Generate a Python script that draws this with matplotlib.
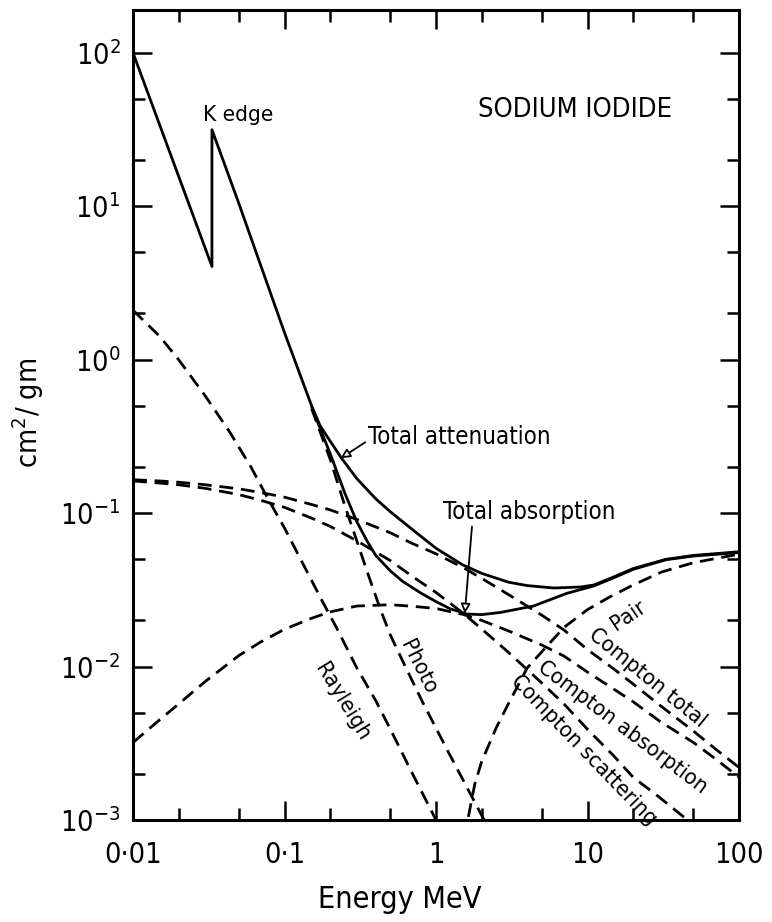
import matplotlib
matplotlib.use('Agg')
import matplotlib.pyplot as plt
from matplotlib import font_manager as fm
from matplotlib.ticker import LogLocator, NullFormatter, FixedLocator, FixedFormatter

# pick a narrow face if one is around, plain DejaVu otherwise
narrow = None
for f in fm.fontManager.ttflist:
    if f.stretch in ('condensed', 'semi-condensed') or 'Condensed' in f.name or 'Narrow' in f.name:
        if f.weight in (400, 'normal', 'regular', 'book') and f.style == 'normal':
            narrow = f
            break
if narrow is not None:
    plt.rcParams['font.family'] = [narrow.name, 'DejaVu Sans']
    plt.rcParams['font.stretch'] = narrow.stretch
    fs = 1.15
else:
    plt.rcParams['font.family'] = ['DejaVu Sans']
    fs = 1.0

# ---- data, cm^2/g vs MeV ----
E_att = [0.01, 0.0332, 0.0332, 0.049, 0.1, 0.151, 0.172, 0.2, 0.238, 0.3, 0.4, 0.5,
         0.7, 1.0, 1.5, 2.0, 3.0, 4.0, 6.0, 9.0, 11.0, 15.0, 20.0, 33.0, 50.0, 100.0]
mu_att = [100, 4.05, 31.5, 11, 1.5, 0.50, 0.37, 0.295, 0.228, 0.168, 0.124, 0.102,
          0.078, 0.059, 0.046, 0.0405, 0.0355, 0.0337, 0.0325, 0.0330, 0.0340, 0.0385,
          0.0435, 0.050, 0.053, 0.056]

E_abs = [0.151, 0.175, 0.2, 0.25, 0.3, 0.35, 0.4, 0.5, 0.6, 0.8, 1.0, 1.24, 1.6, 2.0,
         2.65, 4.4, 7.3, 11.0, 15.0, 20.0, 33.0, 50.0, 100.0]
mu_abs = [0.494, 0.34, 0.245, 0.135, 0.088, 0.066, 0.053, 0.042, 0.036, 0.030, 0.0265,
          0.0238, 0.0220, 0.0218, 0.0225, 0.0248, 0.030, 0.0335, 0.0380, 0.0430, 0.0497,
          0.0525, 0.0553]

E_photo = [0.151, 0.2, 0.25, 0.3, 0.35, 0.43, 0.5, 0.65, 0.82, 1.2, 1.75, 2.1]
mu_photo = [0.48, 0.225, 0.112, 0.066, 0.042, 0.0235, 0.0160, 0.0093, 0.0058, 0.0028,
            0.00138, 0.00098]

E_ray = [0.01, 0.015, 0.02, 0.03, 0.0437, 0.06, 0.08, 0.1, 0.132, 0.18, 0.22, 0.3, 0.4,
         0.5, 0.7, 1.0, 1.05]
mu_ray = [2.1, 1.42, 1.0, 0.58, 0.335, 0.2, 0.118, 0.08, 0.047, 0.026, 0.018, 0.0098,
          0.006, 0.0039, 0.002, 0.001, 0.0009]

E_c = [0.01, 0.015, 0.02, 0.03, 0.05, 0.07, 0.1, 0.15, 0.2, 0.3, 0.5, 0.7, 1.0, 1.5,
       2.0, 3.0, 5.0, 7.0, 10.0, 15.0, 20.0, 30.0, 50.0, 70.0, 100.0]
mu_ctot = [0.165, 0.162, 0.159, 0.153, 0.144, 0.136, 0.127, 0.114, 0.105, 0.091, 0.0744,
           0.0633, 0.0543, 0.0443, 0.0376, 0.0295, 0.0216, 0.0173, 0.0129, 0.0096, 0.0077,
           0.0056, 0.0038, 0.0029, 0.0022]
mu_cabs = [0.0032, 0.0045, 0.0057, 0.0080, 0.0118, 0.0145, 0.0175, 0.0206, 0.0227, 0.0248,
           0.0253, 0.0247, 0.0239, 0.0219, 0.0200, 0.0171, 0.0138, 0.0117, 0.0092, 0.0071,
           0.0059, 0.0044, 0.0032, 0.0025, 0.0019]
mu_cscat = [0.162, 0.157, 0.153, 0.145, 0.132, 0.121, 0.109, 0.093, 0.082, 0.066, 0.049,
            0.0386, 0.0304, 0.0224, 0.0176, 0.0124, 0.0078, 0.0057, 0.0039, 0.0026, 0.0019,
            0.0014, 0.00093, 0.0006, 0.0004]

E_pair = [1.5, 1.62, 1.8, 2.0, 2.5, 3.0, 4.0, 5.0, 7.0, 10.0, 14.0, 20.0, 31.0, 50.0, 100.0]
mu_pair = [0.00055, 0.001, 0.0017, 0.0024, 0.0040, 0.0057, 0.0098, 0.0125, 0.0180, 0.0235,
           0.0284, 0.0340, 0.0414, 0.0475, 0.054]

xticks = [0.01, 0.1, 1, 10, 100]
xticklabels = ['0\u00b701', '0\u00b71', '1', '10', '100']
yticks = [1e-3, 1e-2, 1e-1, 1e0, 1e1, 1e2]
yticklabels = [r'$\mathregular{10^{-3}}$', r'$\mathregular{10^{-2}}$', r'$\mathregular{10^{-1}}$',
               r'$\mathregular{10^{0}}$', r'$\mathregular{10^{1}}$', r'$\mathregular{10^{2}}$']

fig = plt.figure(figsize=(7.72, 9.22), dpi=100)
ax = fig.add_axes([133/772, 1-820/922, (739-133)/772, (820-10)/922])
ax.set_xscale('log')
ax.set_yscale('log')
ax.set_xlim(0.01, 100)
ax.set_ylim(1e-3, 190)

solid = dict(color='k', lw=2.0, solid_capstyle='butt', solid_joinstyle='round')
dash = dict(color='k', lw=2.0, ls=(0, (5, 2.8)))

ax.plot(E_att, mu_att, **solid)
ax.plot(E_abs, mu_abs, **solid)
ax.plot(E_photo, mu_photo, **dash)
ax.plot(E_ray, mu_ray, **dash)
ax.plot(E_c, mu_ctot, **dash)
ax.plot(E_c, mu_cabs, **dash)
ax.plot(E_c, mu_cscat, **dash)
ax.plot(E_pair, mu_pair, **dash)

# axes frame and ticks
for s in ax.spines.values():
    s.set_linewidth(2.2)
ax.xaxis.set_major_locator(FixedLocator(xticks))
ax.xaxis.set_major_formatter(FixedFormatter(xticklabels))
ax.yaxis.set_major_locator(FixedLocator(yticks))
ax.yaxis.set_major_formatter(FixedFormatter(yticklabels))
ax.xaxis.set_minor_locator(LogLocator(base=10, subs=(2.0, 5.0), numticks=20))
ax.yaxis.set_minor_locator(LogLocator(base=10, subs=(2.0, 5.0), numticks=20))
ax.xaxis.set_minor_formatter(NullFormatter())
ax.yaxis.set_minor_formatter(NullFormatter())
ax.tick_params(which='both', direction='in', top=True, right=True, width=1.8)
ax.tick_params(which='major', length=14)
ax.tick_params(which='minor', length=8.5)
ax.tick_params(axis='x', which='major', pad=15, labelsize=18*fs)
ax.tick_params(axis='y', which='major', pad=9, labelsize=18*fs)

fig.text(400/772, 1-899/922, 'Energy MeV', ha='center', va='center', fontsize=19*fs)
fig.text(28/772, 1-413/922, r'cm$\mathregular{^2}$/ gm', ha='center', va='center',
         rotation=90, fontsize=18*fs)

ax.text(36.1, 42.5, 'SODIUM IODIDE', ha='right', va='center', fontsize=17*fs)
ax.text(0.029, 39.5, 'K edge', ha='left', va='center', fontsize=14*fs)

arrow = dict(arrowstyle='-|>', fc='white', ec='k', lw=1.3, mutation_scale=14,
             shrinkA=0, shrinkB=0)
ax.annotate('Total attenuation', xy=(0.235, 0.228), xytext=(0.356, 0.314),
            ha='left', va='center', fontsize=15*fs,
            arrowprops=dict(arrow, relpos=(0.0, 0.35)))
ax.annotate('Total absorption', xy=(1.55, 0.0222), xytext=(1.11, 0.102),
            ha='left', va='center', fontsize=15*fs,
            arrowprops=dict(arrow, relpos=(0.17, 0.0)))

curve_labels = [
    ('Rayleigh', 0.2395, 0.00588, -58.6),
    ('Photo', 0.7605, 0.00994, -63.4),
    ('Pair', 18.65, 0.0216, 34),
    ('Compton total', 24.7, 0.00844, -39),
    ('Compton absorption', 17.15, 0.00403, -37),
    ('Compton scattering', 9.41, 0.00286, -46),
]
for txt, x, y, rot in curve_labels:
    ax.text(x, y, txt, ha='center', va='center', rotation=rot,
            rotation_mode='anchor', fontsize=14*fs)

fig.savefig('out.png', dpi=100)
